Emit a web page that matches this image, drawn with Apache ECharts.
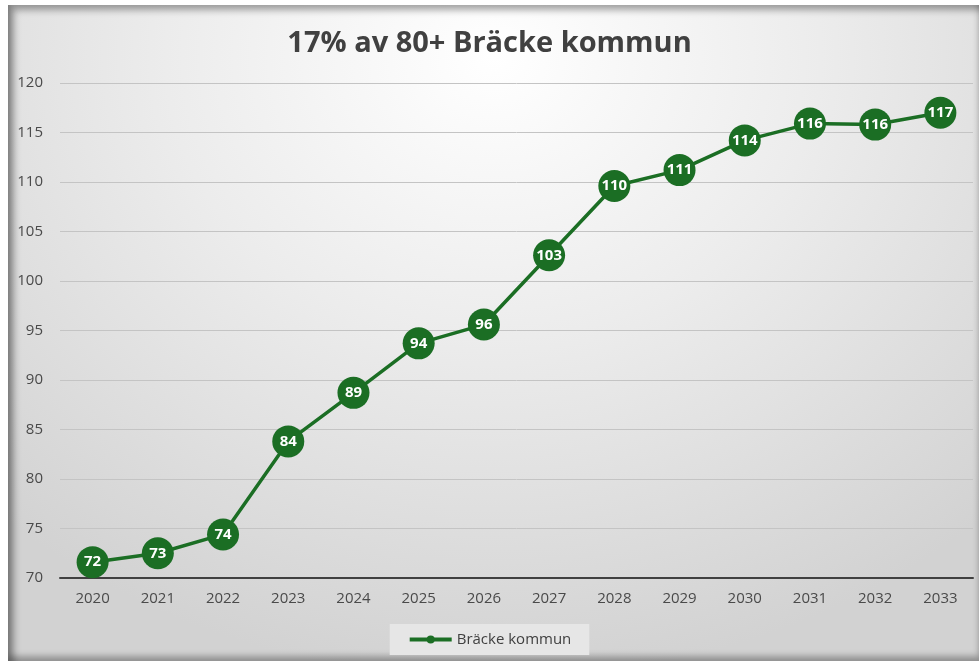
<!DOCTYPE html>
<html>
<head>
<meta charset="utf-8">
<script src="https://cdn.jsdelivr.net/npm/echarts@6/dist/echarts.min.js"></script>
<style>
  html, body { margin: 0; padding: 0; background: #fff; }
  #frame {
    position: absolute; left: 8px; top: 5px; width: 971px; height: 656px;
    background: radial-gradient(ellipse 75% 95% at 50% 8%, #ffffff 0%, #ececec 45%, #d2d2d2 100%);
    box-shadow: inset 6px 5px 7px rgba(0,0,0,0.35), inset 0 -5px 6px rgba(0,0,0,0.3);
  }
  #chart { position: absolute; left: 0; top: 0; width: 979px; height: 663px; }
</style>
</head>
<body>
<div id="frame"></div>
<div id="chart"></div>
<script>
  // data
  const years = ['2020', '2021', '2022', '2023', '2024', '2025', '2026', '2027', '2028', '2029', '2030', '2031', '2032', '2033']
  const values = [71.6, 72.5, 74.4, 83.8, 88.7, 93.7, 95.6, 102.6, 109.6, 111.2, 114.2, 115.9, 115.8, 117.0]
  const seriesName = 'Bräcke kommun'
  const titleText = '17% av 80+ Bräcke kommun'

  const green = '#1b6e24'
  const font = 'Open Sans'

  const chart = echarts.init(document.getElementById('chart'))
  chart.setOption({
    backgroundColor: 'transparent',
    animation: false,
    title: {
      text: titleText,
      left: 'center',
      top: 24,
      textStyle: { fontFamily: font, fontSize: 29, fontWeight: 'bold', color: '#404040' }
    },
    legend: {
      bottom: 8,
      left: 'center',
      padding: [8, 18, 8, 18],
      backgroundColor: '#e6e6e6',
      itemWidth: 42,
      itemHeight: 10,
      itemGap: 4,
      lineStyle: { width: 4 },
      textStyle: { fontFamily: font, fontSize: 15, color: '#404040' },
      data: [seriesName]
    },
    grid: { left: 60, right: 6, top: 83, bottom: 85 },
    xAxis: {
      type: 'category',
      data: years,
      boundaryGap: true,
      axisLine: { lineStyle: { color: '#404040', width: 2 } },
      axisTick: { show: false },
      axisLabel: { fontFamily: font, fontSize: 15, color: '#4a4a4a', margin: 13 }
    },
    yAxis: {
      type: 'value',
      min: 70,
      max: 120,
      interval: 5,
      axisLine: { show: false },
      axisTick: { show: false },
      axisLabel: { fontFamily: font, fontSize: 15, color: '#4a4a4a', margin: 17 },
      splitLine: { lineStyle: { color: '#c4c4c4', width: 1 } }
    },
    series: [{
      name: seriesName,
      type: 'line',
      data: values,
      symbol: 'circle',
      symbolSize: 32,
      lineStyle: { color: green, width: 3.5 },
      itemStyle: { color: green },
      label: {
        show: true,
        position: 'inside',
        color: '#ffffff',
        fontFamily: font,
        fontSize: 15,
        fontWeight: 'bold',
        formatter: p => Math.round(p.value)
      }
    }]
  })
</script>
</body>
</html>
